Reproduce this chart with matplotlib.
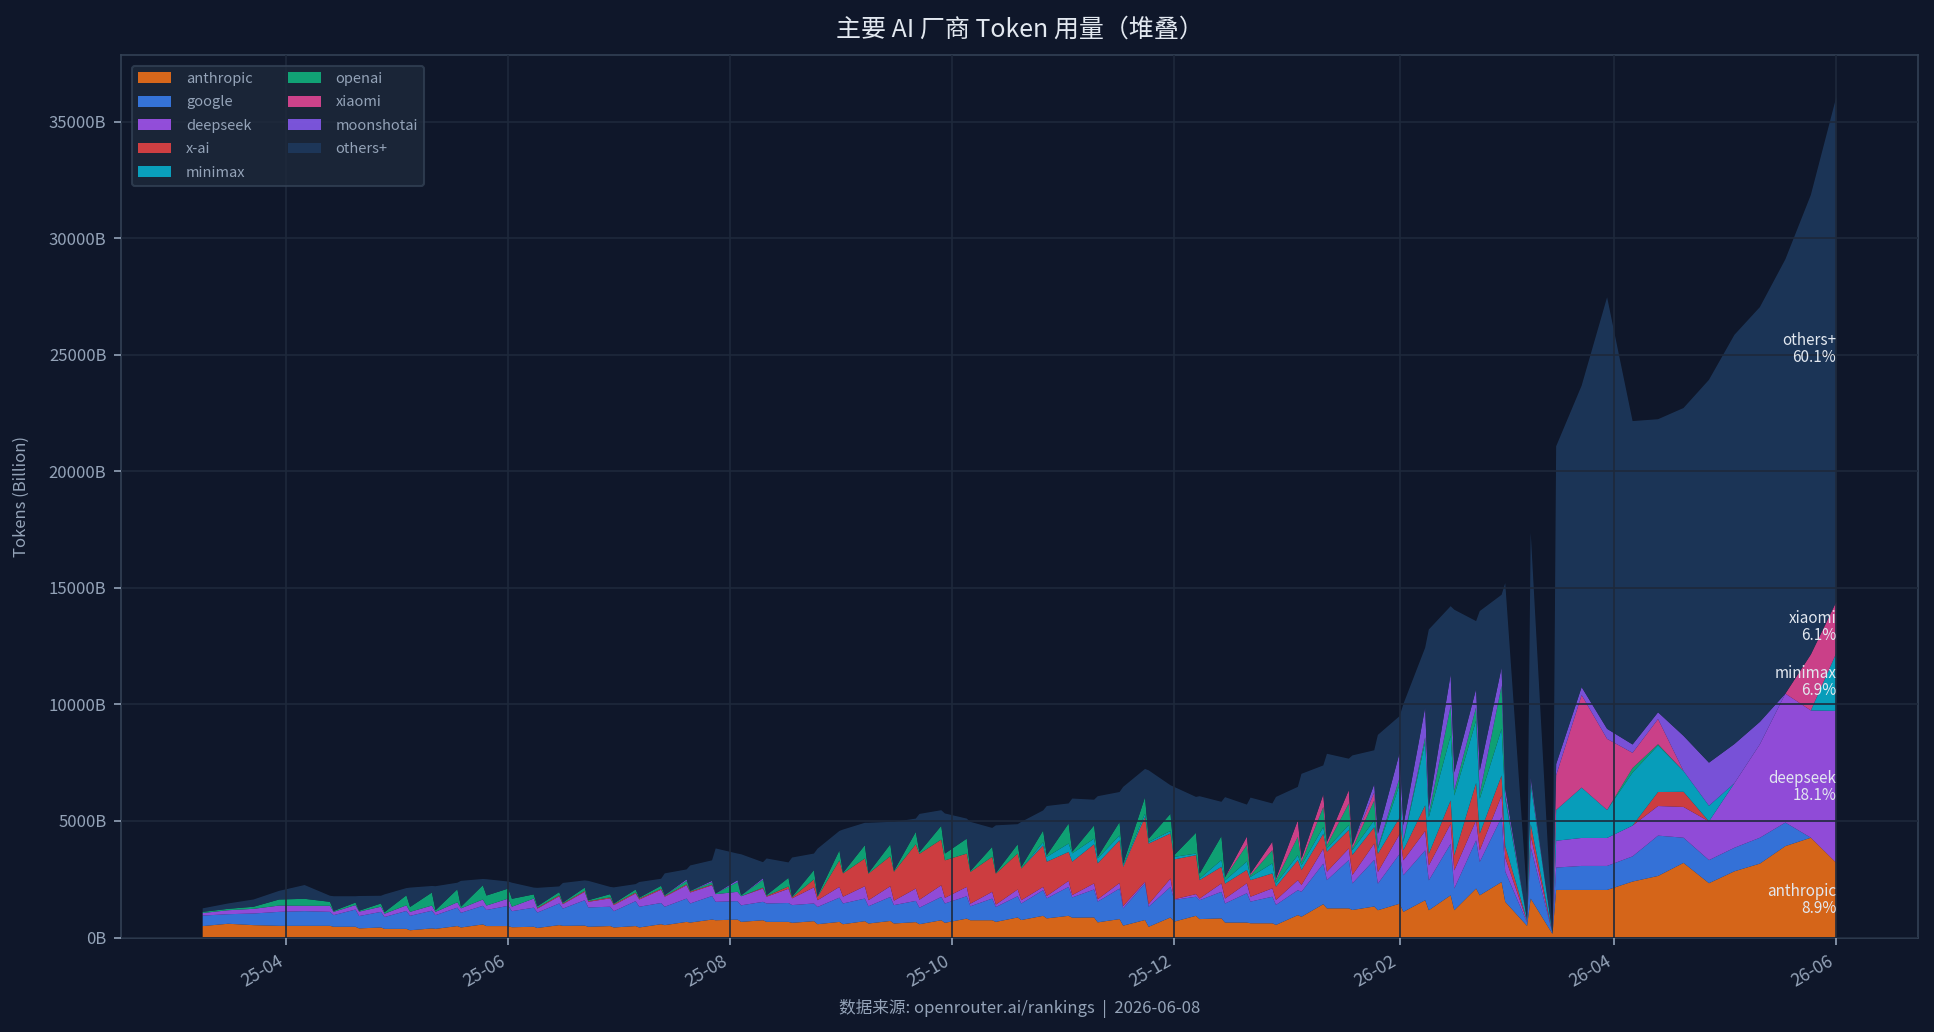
import matplotlib
matplotlib.use("Agg")
import matplotlib.pyplot as plt
import matplotlib.dates as mdates
from matplotlib.ticker import FuncFormatter
import numpy as np
import pandas as pd

BG = "#0f172a"
TXT = "#94a3b8"

vendors = ["anthropic", "google", "deepseek", "x-ai", "minimax",
           "openai", "xiaomi", "moonshotai", "others+"]
colors = ["#f97316", "#3b82f6", "#a855f7", "#ef4444", "#06b6d4",
          "#10b981", "#ec4899", "#8b5cf6", "#1e3a5f"]

# two interleaved weekly snapshots (Sunday / Monday), values in billions of tokens
sun_dates = pd.date_range("2025-03-09", "2026-03-15", freq="7D")
mon_dates = pd.date_range("2025-04-14", "2026-06-01", freq="7D")

anthropic_sun = [490, 590, 530, 500, 500,
                 500, 460, 430, 370, 390, 490, 560, 490, 460, 530, 510,
                 490, 490, 570, 670, 770, 770, 740, 670, 700, 670,
                 700, 710, 660, 740, 810, 740, 860, 930, 930, 860,
                 790, 750, 860, 930, 820, 640, 610, 960, 1430, 1250,
                 1330, 1450, 1600, 1810, 2100, 2380, 500, 150]
anthropic_mon = [460, 390, 370, 310, 370, 430, 490, 440, 410, 500, 460,
                 430, 430, 530, 640, 740, 670, 670, 630, 570, 570,
                 600, 600, 570, 630, 740, 670, 750, 820, 850, 650,
                 510, 460, 680, 790, 640, 610, 540, 890, 1250, 1180,
                 1170, 1100, 1170, 1170, 1810, 1530, 1670,
                 2040, 2040, 2040, 2400, 2640, 3200, 2330, 2840, 3170, 3920, 4280, 3200]

google_sun = [450, 410, 500, 600, 630,
              600, 740, 670, 770, 760, 790, 800, 870, 820, 930, 1090,
              830, 1070, 910, 1000, 1010, 790, 790, 810, 760, 1040,
              970, 1030, 910, 1000, 960, 930, 910, 1100, 1240, 1200,
              1310, 1570, 1310, 820, 1140, 1260, 1140, 1070, 1740, 2070,
              2000, 2140, 2140, 2210, 2070, 2780, 150, 30]
google_mon = [500, 530, 510, 620, 590, 630, 690, 690, 660, 740, 830,
              700, 890, 790, 820, 790, 710, 790, 760, 740, 890,
              740, 790, 710, 830, 600, 640, 710, 860, 870, 890,
              740, 860, 930, 810, 820, 930, 860, 1070, 1210, 1140,
              1140, 1570, 1280, 930, 1430, 1300, 2200,
              960, 1030, 1030, 1080, 1730, 1080, 990, 1010, 1110, 1010, 0, 0]

deepseek_sun = [110, 170, 200, 270, 230,
                260, 190, 220, 240, 220, 230, 270, 310, 390, 310, 360,
                360, 330, 570, 570, 460, 400, 570, 610, 690, 460,
                530, 460, 530, 500, 400, 290, 290, 140, 260, 260,
                240, 70, 360, 110, 360, 430, 360, 430, 640, 500,
                700, 850, 830, 860, 860, 930, 50, 0]
deepseek_mon = [140, 190, 140, 170, 140, 190, 190, 190, 170, 190, 240,
                260, 310, 430, 470, 330, 390, 290, 290, 290, 290,
                260, 190, 340, 240, 110, 100, 140, 100, 100, 100,
                100, 110, 30, 70, 210, 210, 210, 290, 360, 360,
                500, 640, 640, 780, 500, 600, 500,
                1150, 1200, 1200, 1320, 1270, 1320, 1660, 2770, 4010, 5530, 5460, 6520]

xai_sun = [0, 0, 0, 0, 0,
           0, 0, 0, 0, 0, 0, 0, 0, 0, 40, 40,
           40, 40, 40, 40, 30, 0, 40, 100, 340, 1140,
           1190, 1290, 1900, 1960, 1430, 1500, 1540, 1780, 1240, 1680,
           1830, 2780, 1930, 1670, 710, 570, 640, 860, 640, 790,
           700, 710, 1100, 1000, 1600, 860, 30, 0]
xai_mon = [0, 0, 0, 0, 0, 0, 0, 0, 30, 30, 30,
           40, 40, 30, 40, 0, 0, 30, 40, 140, 1000,
           1140, 1240, 1970, 1610, 1360, 1330, 1360, 1470, 1430, 1540,
           1680, 2600, 1710, 790, 640, 710, 570, 640, 860, 860,
           780, 430, 500, 640, 710, 500, 500,
           0, 0, 0, 0, 600, 650, 0, 0, 0, 0, 0, 0]

minimax_sun = [0, 0, 0, 0, 0,
               0, 0, 0, 0, 0, 0, 0, 0, 0, 0, 0,
               0, 0, 0, 0, 0, 0, 0, 0, 0, 0,
               0, 0, 0, 0, 0, 0, 0, 140, 360, 240,
               210, 140, 110, 70, 290, 360, 430, 210, 290, 210,
               300, 1430, 2710, 2780, 2680, 2000, 50, 0]
minimax_mon = [0, 0, 0, 0, 0, 0, 0, 0, 0, 0, 0,
               0, 0, 0, 0, 0, 0, 0, 0, 0, 0,
               0, 0, 0, 0, 0, 0, 0, 210, 360, 210,
               70, 70, 110, 70, 140, 140, 140, 210, 140, 210,
               210, 360, 1570, 2570, 1500, 2000, 1700,
               1320, 2160, 1200, 2280, 2000, 890, 670, 0, 0, 0, 0, 2480]

openai_sun = [50, 60, 90, 260, 300,
              170, 110, 140, 430, 560, 560, 610, 430, 180, 140, 140,
              140, 130, 130, 150, 100, 420, 340, 370, 400, 430,
              570, 510, 530, 590, 640, 430, 400, 500, 860, 570,
              570, 710, 740, 890, 1030, 710, 570, 790, 860, 930,
              850, 290, 210, 1280, 570, 1850, 20, 0]
openai_mon = [40, 40, 70, 210, 70, 70, 430, 340, 70, 40, 40,
              30, 40, 40, 30, 30, 40, 40, 30, 40, 30,
              30, 40, 70, 290, 40, 30, 70, 70, 70, 70,
              70, 140, 70, 210, 140, 70, 140, 140, 140, 70,
              70, 70, 140, 210, 210, 150, 100,
              0, 0, 0, 190, 50, 0, 0, 0, 0, 0, 0, 0]

xiaomi_sun = [0, 0, 0, 0, 0,
              0, 0, 0, 0, 0, 0, 0, 0, 0, 0, 0,
              0, 0, 0, 0, 0, 0, 0, 0, 0, 0,
              0, 0, 0, 0, 0, 0, 0, 0, 0, 0,
              0, 0, 0, 0, 0, 360, 360, 710, 540, 570,
              350, 0, 0, 0, 0, 0, 0, 0]
xiaomi_mon = [0, 0, 0, 0, 0, 0, 0, 0, 0, 0, 0,
              0, 0, 0, 0, 0, 0, 0, 0, 0, 0,
              0, 0, 0, 0, 0, 0, 0, 0, 0, 0,
              0, 0, 0, 0, 0, 70, 70, 140, 140, 140,
              0, 0, 0, 0, 0, 0, 0,
              1490, 3970, 3050, 650, 1080, 0, 0, 0, 0, 0, 2400, 2200]

moonshot_sun = [0, 0, 0, 0, 0,
                0, 0, 0, 0, 0, 0, 0, 0, 0, 0, 0,
                0, 0, 0, 60, 60, 80, 60, 0, 0, 0,
                0, 0, 0, 0, 0, 0, 0, 0, 0, 0,
                0, 0, 0, 0, 0, 0, 0, 0, 0, 0,
                350, 1070, 1280, 1350, 780, 780, 0, 0]
moonshot_mon = [0, 0, 0, 0, 0, 0, 0, 0, 0, 0, 0,
                0, 0, 0, 0, 0, 0, 0, 0, 0, 0,
                0, 0, 0, 0, 0, 0, 0, 0, 0, 0,
                0, 0, 0, 0, 0, 0, 0, 0, 0, 0,
                570, 640, 290, 780, 1000, 300, 200,
                480, 340, 430, 360, 290, 1510, 1850, 1680, 960, 0, 0, 0]

others_sun = [150, 230, 310, 370, 590,
              260, 270, 330, 310, 280, 280, 270, 300, 290, 240, 310,
              310, 230, 300, 430, 880, 1140, 690, 660, 710, 830,
              960, 960, 570, 670, 860, 810, 860, 860, 860, 1100,
              1290, 1210, 1220, 1540, 1470, 1370, 1640, 1430, 1240, 1350,
              1450, 1560, 2560, 2920, 2910, 3120, 1000, 20]
others_mon = [630, 630, 760, 830, 1030, 1110, 700, 690, 790, 840, 830,
              690, 670, 930, 1090, 1930, 1760, 1570, 1680, 2030, 1850,
              2150, 2100, 1640, 1720, 2110, 2040, 1930, 2110, 2280, 2600,
              3290, 2930, 2930, 3320, 3430, 3260, 3500, 3640, 3780, 3850,
              4250, 5200, 7620, 6980, 6840, 8820, 10500,
              13630, 12930, 18510, 13870, 12570, 14060, 16420, 17550, 17790, 18630, 19710, 21650]

sun = np.array([anthropic_sun, google_sun, deepseek_sun, xai_sun, minimax_sun,
                openai_sun, xiaomi_sun, moonshot_sun, others_sun], dtype=float)
mon = np.array([anthropic_mon, google_mon, deepseek_mon, xai_mon, minimax_mon,
                openai_mon, xiaomi_mon, moonshot_mon, others_mon], dtype=float)

dates = np.concatenate([sun_dates.values, mon_dates.values])
order = np.argsort(dates)
dates = dates[order]
values = np.concatenate([sun, mon], axis=1)[:, order]

plt.rcParams['font.family'] = ['Noto Sans CJK SC', 'DejaVu Sans']

fig = plt.figure(figsize=(1934 / 150, 1032 / 150), dpi=150, facecolor=BG)
ax = fig.add_axes([121 / 1934, 1 - 937.5 / 1032, (1918 - 121) / 1934, (937.5 - 55) / 1032])
ax.set_facecolor(BG)

ax.stackplot(dates, values, labels=vendors, colors=colors, alpha=0.85, linewidth=0)

ax.grid(True, color="#1e293b", linewidth=0.8)
ax.set_axisbelow(False)

ax.xaxis.set_major_locator(mdates.MonthLocator(bymonth=[2, 4, 6, 8, 10, 12]))
ax.xaxis.set_major_formatter(mdates.DateFormatter("%y-%m"))
ax.yaxis.set_major_formatter(FuncFormatter(lambda v, p: f"{int(v)}B"))
ax.tick_params(colors=TXT, labelsize=8)
ax.tick_params(axis="x", labelsize=8.5)
for lab in ax.get_xticklabels():
    lab.set_rotation(30)
    lab.set_ha("right")
for s in ax.spines.values():
    s.set_color("#334155")

ax.set_ylabel("Tokens (Billion)", color=TXT, fontsize=8, labelpad=9)
ax.set_xlabel("数据来源: openrouter.ai/rankings  |  2026-06-08", color=TXT, fontsize=8)
ax.set_title("主要 AI 厂商 Token 用量（堆叠）", color="#e2e8f0", fontsize=12, pad=9)

leg = ax.legend(loc="upper left", ncol=2, fontsize=7, facecolor="#1e293b",
                edgecolor="#334155", labelcolor=TXT, framealpha=0.8,
                handlelength=2.3, handleheight=0.75, handletextpad=1.0,
                columnspacing=2.4, labelspacing=0.65, borderaxespad=0.75)

# share labels at the latest point
last = values[:, -1]
total = last.sum()
bottom = 0
for name, v in zip(vendors, last):
    pct = v / total * 100
    if pct >= 5:
        ax.text(dates[-1], bottom + v / 2, f"{name}\n{pct:.1f}%", ha="right", va="center",
                fontsize=7.3, color="#e2e8f0", linespacing=1.0)
    bottom += v

fig.savefig("out.png", dpi=150, facecolor=BG)
